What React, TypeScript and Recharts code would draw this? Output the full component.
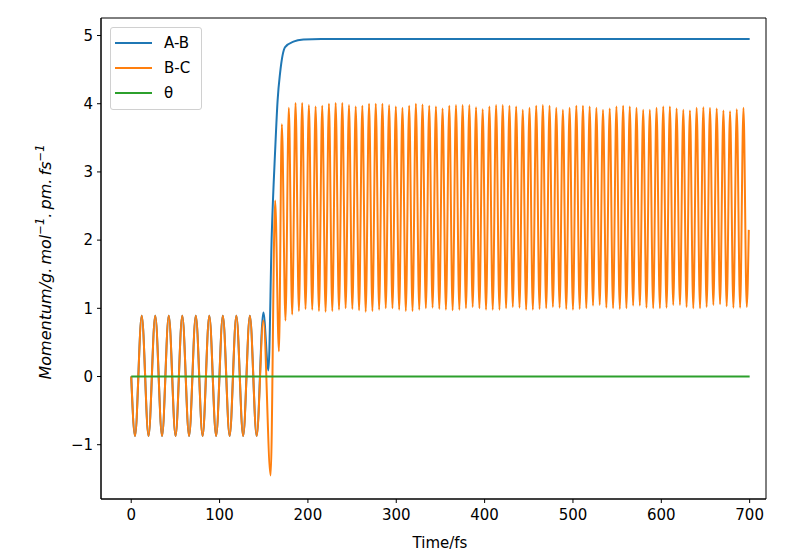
import { LineChart, Line, XAxis, YAxis, ReferenceArea, Legend } from 'recharts';

// A-B and B-C oscillate together until ~142 fs (extrema only)
const earlyTime = [0, 4.3, 11.9, 19.6, 27.2, 34.9, 42.5, 50.2, 57.8, 65.5, 73.1, 80.8, 88.4, 96.1, 103.7, 111.4, 119.0, 126.7, 134.3, 142.0];
const earlyValue = [0, -0.87, 0.89, -0.87, 0.89, -0.87, 0.89, -0.87, 0.89, -0.87, 0.89, -0.87, 0.89, -0.87, 0.89, -0.87, 0.89, -0.87, 0.89, -0.87];

// B-C around the collision
const bcMidTime = [149.6, 157.8, 162.9, 167.2, 170.5, 174.6];
const bcMidValue = [0.82, -1.45, 2.58, 0.37, 3.7, 0.82];

// B-C after the collision: peaks and troughs
const bcPeakTime = [178.4, 186.0, 193.5, 201.1, 208.7, 216.2, 223.8, 231.4, 238.9, 246.5, 254.1, 261.6, 269.2, 276.8, 284.3, 291.9, 299.5, 307.0, 314.6, 322.2, 329.7, 337.3, 344.9, 352.4, 360.0, 367.6, 375.1, 382.7, 390.3, 397.8, 405.4, 413.0, 420.5, 428.1, 435.7, 443.2, 450.8, 458.4, 465.9, 473.5, 481.1, 488.6, 496.2, 503.8, 511.3, 518.9, 526.5, 534.0, 541.6, 549.2, 556.8, 564.3, 571.9, 579.5, 587.0, 594.6, 602.2, 609.7, 617.3, 624.9, 632.4, 640.0, 647.6, 655.1, 662.7, 670.3, 677.8, 685.4, 693.0];
const bcPeakValue = [
  3.94, 4.01, 4.01, 3.98, 3.96, 3.97, 4.0, 4.01, 4.01, 3.98,
  3.96, 3.97, 4.0, 4.0, 4.0, 3.98, 3.96, 3.94, 3.97, 4.0,
  3.99, 3.97, 3.96, 3.93, 3.97, 3.98, 3.98, 3.98, 3.95, 3.92,
  3.96, 3.98, 3.98, 3.97, 3.96, 3.91, 3.94, 3.97, 3.98, 3.97,
  3.94, 3.91, 3.94, 3.97, 3.97, 3.96, 3.94, 3.91, 3.93, 3.96,
  3.97, 3.96, 3.94, 3.91, 3.91, 3.94, 3.96, 3.96, 3.93, 3.91,
  3.9, 3.94, 3.95, 3.94, 3.93, 3.9, 3.89, 3.92, 3.94,
];
const bcTroughTime = [182.2, 189.8, 197.3, 204.9, 212.5, 220.0, 227.6, 235.2, 242.7, 250.3, 257.9, 265.4, 273.0, 280.6, 288.1, 295.7, 303.3, 310.8, 318.4, 326.0, 333.5, 341.1, 348.7, 356.2, 363.8, 371.4, 378.9, 386.5, 394.1, 401.6, 409.2, 416.8, 424.3, 431.9, 439.5, 447.0, 454.6, 462.2, 469.7, 477.3, 484.9, 492.4, 500.0, 507.6, 515.1, 522.7, 530.3, 537.8, 545.4, 553.0, 560.5, 568.1, 575.7, 583.2, 590.8, 598.4, 605.9, 613.5, 621.1, 628.6, 636.2, 643.8, 651.3, 658.9, 666.5, 674.0, 681.6, 689.2, 696.7];
const bcTroughValue = [
  0.91, 0.96, 0.99, 0.98, 0.96, 0.95, 0.96, 0.98, 1.0, 0.99,
  0.97, 0.95, 0.96, 0.98, 1.0, 1.0, 0.98, 0.96, 0.96, 0.98,
  1.0, 1.01, 0.99, 0.98, 0.97, 0.98, 1.0, 1.02, 1.0, 0.98,
  0.98, 0.98, 1.0, 1.02, 1.01, 0.98, 0.98, 0.99, 1.0, 1.02,
  1.01, 0.99, 0.98, 0.99, 1.0, 1.04, 1.05, 1.01, 1.0, 0.99,
  1.0, 1.04, 1.04, 1.01, 1.0, 1.0, 1.01, 1.05, 1.05, 1.02,
  1.0, 1.0, 1.02, 1.05, 1.06, 1.03, 1.01, 1.01, 1.02,
];
const bcEndTime = [699.0];
const bcEndValue = [2.15];

// A-B leaves the oscillation and climbs to a plateau
const abRiseTime = [149.6, 155.3, 159.1, 162.9, 165.7, 168.5, 174.2, 183.6, 194.9, 215.0, 700.0];
const abRiseValue = [0.94, 0.09, 2.09, 3.31, 4.05, 4.45, 4.83, 4.91, 4.94, 4.95, 4.95];

const thetaTime = [0, 700];
const thetaValue = [0, 0];

const xTicks = [0, 100, 200, 300, 400, 500, 600, 700];
const yTicks = [-1, 0, 1, 2, 3, 4, 5];

const X_DOMAIN: [number, number] = [-34.2, 718.5];
const Y_DOMAIN: [number, number] = [-1.796, 5.257];

const toPoints = (times: number[], values: number[]) => times.map((t, i) => ({ t, v: values[i] }));

const early = toPoints(earlyTime, earlyValue);
const bcTail = [...toPoints(bcPeakTime, bcPeakValue), ...toPoints(bcTroughTime, bcTroughValue)].sort((a, b) => a.t - b.t);
const bcData = [...early, ...toPoints(bcMidTime, bcMidValue), ...bcTail, ...toPoints(bcEndTime, bcEndValue)];
const abData = [...early, ...toPoints(abRiseTime, abRiseValue)];
const thetaData = toPoints(thetaTime, thetaValue);

const FONT = 'DejaVu Sans, sans-serif';
const tickStyle = { fill: '#000', fontSize: 15, fontFamily: FONT };

const fmtY = (v: number) => (v < 0 ? '\u2212' + Math.abs(v) : String(v));

function LegendBox({ payload }: any) {
  return (
    <div
      style={{
        border: '1px solid #d0d0d0',
        borderRadius: 3,
        background: '#fff',
        boxSizing: 'border-box',
        width: 92,
        height: 83,
        padding: '2px 0 0 4px',
        fontFamily: FONT,
        fontSize: 15,
      }}
    >
      {(payload || []).map((p: any) => (
        <div key={p.value} style={{ display: 'flex', alignItems: 'center', height: 25.3 }}>
          <svg width={37} height={4} style={{ marginRight: 12 }}>
            <line x1={0} y1={2} x2={37} y2={2} stroke={p.color} strokeWidth={2} />
          </svg>
          <span style={{ color: '#000' }}>{p.value}</span>
        </div>
      ))}
    </div>
  );
}

function YLabel() {
  return (
    <text
      transform="rotate(-90)"
      x={-262}
      y={51}
      textAnchor="middle"
      fontFamily={FONT}
      fontSize={16}
      fontStyle="italic"
      fill="#000"
      xmlSpace="preserve"
    >
      {'Momentum/g.\u2009mol'}
      <tspan dy={-7} fontSize={11.5}>{'\u22121'}</tspan>
      <tspan dy={7}>{'.\u2009pm.\u2009fs'}</tspan>
      <tspan dy={-7} fontSize={11.5}>{'\u22121'}</tspan>
    </text>
  );
}

function XLabel() {
  return (
    <text x={440} y={548} textAnchor="middle" fontFamily={FONT} fontSize={15} fill="#000">
      Time/fs
    </text>
  );
}

export default function App() {
  return (
    <div style={{ position: 'absolute', left: 0, top: 0, width: 796, height: 559, background: '#fff' }}>
      <LineChart width={796} height={559} margin={{ top: 18, right: 30, bottom: 0, left: 0 }}>
        <XAxis
          dataKey="t"
          type="number"
          domain={X_DOMAIN}
          ticks={xTicks}
          allowDataOverflow
          height={60}
          tickSize={4}
          tickMargin={6}
          tick={tickStyle}
          axisLine={{ stroke: '#000' }}
          tickLine={{ stroke: '#000' }}
          label={{ content: () => <XLabel /> }}
        />
        <YAxis
          type="number"
          domain={Y_DOMAIN}
          ticks={yTicks}
          allowDataOverflow
          width={101}
          tickSize={4}
          tickMargin={4}
          tick={tickStyle}
          tickFormatter={fmtY}
          axisLine={{ stroke: '#000' }}
          tickLine={{ stroke: '#000' }}
          label={{ content: () => <YLabel /> }}
        />
        <ReferenceArea
          x1={X_DOMAIN[0]}
          x2={X_DOMAIN[1]}
          y1={Y_DOMAIN[0]}
          y2={Y_DOMAIN[1]}
          fill="none"
          stroke="#000"
          strokeWidth={1}
        />
        <Line data={abData} dataKey="v" name="A-B" type="monotone" stroke="#1f77b4" strokeWidth={2} dot={false} isAnimationActive={false} />
        <Line data={bcData} dataKey="v" name="B-C" type="monotone" stroke="#ff7f0e" strokeWidth={2} dot={false} isAnimationActive={false} />
        <Line data={thetaData} dataKey="v" name="θ" type="monotone" stroke="#2ca02c" strokeWidth={2} dot={false} isAnimationActive={false} />
        <Legend
          layout="vertical"
          align="center"
          verticalAlign="middle"
          content={<LegendBox />}
          wrapperStyle={{ left: 110, top: 27, width: 92, height: 83 }}
        />
      </LineChart>
    </div>
  );
}
